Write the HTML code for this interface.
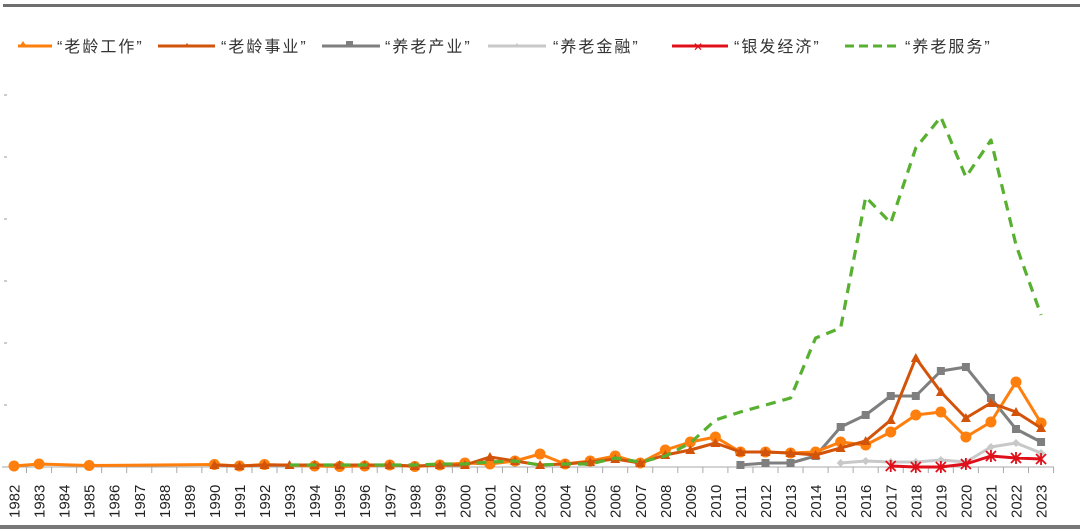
<!DOCTYPE html>
<html><head><meta charset="utf-8"><style>
body{margin:0;background:#fff;}
svg{display:block;font-family:"Liberation Sans","Noto Sans CJK SC",sans-serif;}
</style></head><body>
<svg width="1080" height="532" viewBox="0 0 1080 532">
<rect x="3" y="4" width="1077" height="3" fill="#6e6e6e"/>
<rect x="0" y="525" width="1080" height="4" fill="#777"/>
<!-- legend -->
<g font-size="16" fill="#333" letter-spacing="2">
<line x1="18" y1="46" x2="52" y2="46" stroke="#ff7f0e" stroke-width="3"/><polygon points="19,47 23,41 27,47" fill="#ff7f0e"/>
<text x="57" y="52">“老龄工作”</text>
<line x1="158" y1="46" x2="215" y2="46" stroke="#d2540a" stroke-width="3"/><polygon points="184,47 187,43 190,47" fill="#d2540a"/>
<text x="221" y="52">“老龄事业”</text>
<line x1="322" y1="46" x2="380" y2="46" stroke="#7f7f7f" stroke-width="3"/><rect x="346" y="41" width="7" height="6" fill="#7f7f7f"/>
<text x="385" y="52">“养老产业”</text>
<line x1="488" y1="46" x2="546" y2="46" stroke="#c8c8c8" stroke-width="3"/><polygon points="514,47 517,43 520,47" fill="#c8c8c8"/>
<text x="553" y="52">“养老金融”</text>
<line x1="672" y1="46" x2="728" y2="46" stroke="#e0101a" stroke-width="3"/><text x="693" y="51" fill="#e0101a" font-size="12" letter-spacing="0">✕</text>
<text x="734" y="52">“银发经济”</text>
<line x1="845" y1="46" x2="900" y2="46" stroke="#57b030" stroke-width="3" stroke-dasharray="9,5"/>
<text x="905" y="52">“养老服务”</text>
</g>
<!-- y ticks -->
<g stroke="#999" stroke-width="1">
<line x1="4" y1="95" x2="7" y2="95"/><line x1="4" y1="157" x2="7" y2="157"/><line x1="4" y1="219" x2="7" y2="219"/><line x1="4" y1="281" x2="7" y2="281"/><line x1="4" y1="343" x2="7" y2="343"/><line x1="4" y1="405" x2="7" y2="405"/>
<line x1="2" y1="467" x2="1054" y2="467" stroke="#aaa"/>
</g>
<g id="ticks" stroke="#aaa"></g>
<g id="labels" font-size="15" fill="#222"></g>
<g id="series"></g>
</svg>
<script>
var X=function(y){return 14+25.05*(y-1982);};
var ns="http://www.w3.org/2000/svg";
function el(t,a,p){var e=document.createElementNS(ns,t);for(var k in a)e.setAttribute(k,a[k]);p.appendChild(e);return e;}
var tk=document.getElementById('ticks'),lb=document.getElementById('labels'),sr=document.getElementById('series');
for(var y=1982;y<=2023;y++){var x=X(y);el('line',{x1:x+12.5,y1:467,x2:x+12.5,y2:473},tk);
var t=el('text',{x:0,y:0,transform:'translate('+(x+5.5)+',518) rotate(-90)'},lb);t.textContent=y;}
function pts(d){return d.map(function(p){return X(p[0])+','+p[1];}).join(' ');}
var orange=[[1982,466],[1983,464],[1985,465.5],[1990,464.5],[1991,466],[1992,464.5],[1994,466],[1995,466.5],[1996,466],[1997,465],[1998,466.5],[1999,465],[2000,463],[2001,464],[2002,461],[2003,454],[2004,464],[2005,461],[2006,456],[2007,463],[2008,450],[2009,442],[2010,437],[2011,452],[2012,452],[2013,453],[2014,452],[2015,442],[2016,445],[2017,432],[2018,415],[2019,412],[2020,437],[2021,422],[2022,382],[2023,423]];
var dark=[[1990,465],[1991,466],[1992,465],[1993,465],[1994,465],[1995,465],[1996,465],[1997,465],[1998,466],[1999,465],[2000,465],[2001,457],[2002,461],[2003,465],[2004,464],[2005,462],[2006,459],[2007,463],[2008,455],[2009,450],[2010,443],[2011,452],[2012,452],[2013,453],[2014,455],[2015,448],[2016,441],[2017,420],[2018,358],[2019,392],[2020,418],[2021,403],[2022,412],[2023,428]];
var gray=[[2011,465],[2012,463],[2013,463],[2014,456],[2015,427],[2016,415],[2017,396],[2018,396],[2019,371],[2020,367],[2021,398],[2022,429],[2023,442]];
var lg=[[2015,463],[2016,461],[2017,462],[2018,462],[2019,460],[2020,462],[2021,447],[2022,443],[2023,453]];
var red=[[2017,466],[2018,467],[2019,467],[2020,464],[2021,456],[2022,458],[2023,459]];
var green=[[1993,465],[1994,465],[1995,465],[1996,465],[1997,465],[1998,465],[1999,464],[2000,464],[2001,462],[2002,461],[2003,465],[2004,464],[2005,464],[2006,458],[2007,462],[2008,456],[2009,443],[2010,420],[2011,412],[2012,405],[2013,398],[2014,338],[2015,328],[2016,197],[2017,223],[2018,148],[2019,117],[2020,177],[2021,140],[2022,245],[2023,315]];
function line(d,c,w,dash){var a={points:pts(d),fill:'none',stroke:c,'stroke-width':w,'stroke-linejoin':'round'};if(dash)a['stroke-dasharray']=dash;el('polyline',a,sr);}
line(lg,'#c8c8c8',3);lg.forEach(function(p){var x=X(p[0]),y=p[1];el('polygon',{points:(x-4)+','+y+' '+x+','+(y-4)+' '+(x+4)+','+y+' '+x+','+(y+4),fill:'#c8c8c8'},sr);});
line(gray,'#7f7f7f',3);gray.forEach(function(p){el('rect',{x:X(p[0])-4,y:p[1]-4,width:8,height:8,fill:'#7f7f7f'},sr);});
line(orange,'#ff7f0e',3);orange.forEach(function(p){el('circle',{cx:X(p[0]),cy:p[1],r:5.5,fill:'#ff7f0e'},sr);});
line(dark,'#d2540a',3);dark.forEach(function(p){var x=X(p[0]),y=p[1];el('polygon',{points:(x-5)+','+(y+4)+' '+x+','+(y-5)+' '+(x+5)+','+(y+4),fill:'#d2540a'},sr);});
line(red,'#e0101a',3);red.forEach(function(p){var x=X(p[0]),y=p[1];el('path',{d:'M'+(x-5)+' '+(y-5)+'L'+(x+5)+' '+(y+5)+'M'+(x+5)+' '+(y-5)+'L'+(x-5)+' '+(y+5)+'M'+x+' '+(y-6)+'L'+x+' '+(y+6),stroke:'#e0101a','stroke-width':1.8},sr);});
line(green,'#57b030',3.2,'10,7');
</script>
</body></html>
